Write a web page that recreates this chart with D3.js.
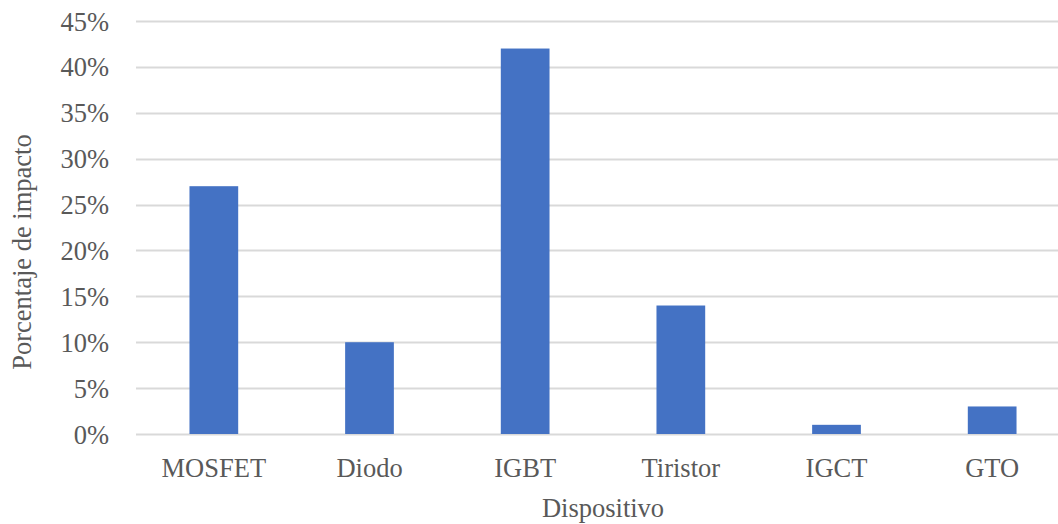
<!DOCTYPE html>
<html>
<head>
<meta charset="utf-8">
<script src="https://cdn.jsdelivr.net/npm/d3@7"></script>
<style>
  html, body { margin: 0; padding: 0; background: #fff; overflow: hidden; }
  svg { display: block; }
  text { font-family: "Liberation Serif", "Times New Roman", serif; fill: #595959; }
</style>
</head>
<body>
<svg id="chart" width="1058" height="524"></svg>
<script>
// Device categories and their share of impact (%)
const categories = ["MOSFET", "Diodo", "IGBT", "Tiristor", "IGCT", "GTO"];
const values = [27, 10, 42, 14, 1, 3];
const yTicks = [0, 5, 10, 15, 20, 25, 30, 35, 40, 45];
const xTitle = "Dispositivo";
const yTitle = "Porcentaje de impacto";

const svg = d3.select("#chart");
const W = 1058, H = 524;
const plot = { left: 136, right: 1070, top: 21, bottom: 434 };

const x = d3.scaleBand()
  .domain(categories)
  .range([plot.left, plot.right])
  .paddingInner(0.687)
  .paddingOuter(0.3435);

const y = d3.scaleLinear()
  .domain([0, 45])
  .range([plot.bottom, plot.top]);

// Horizontal gridlines
svg.append("g")
  .selectAll("line")
  .data(yTicks)
  .join("line")
  .attr("x1", plot.left)
  .attr("x2", W)
  .attr("y1", d => Math.round(y(d)) + 0.5)
  .attr("y2", d => Math.round(y(d)) + 0.5)
  .attr("stroke", "#d9d9d9")
  .attr("stroke-width", 2);

// Bars
svg.append("g")
  .selectAll("rect")
  .data(values)
  .join("rect")
  .attr("x", (d, i) => x(categories[i]))
  .attr("width", x.bandwidth())
  .attr("y", d => y(d))
  .attr("height", d => y(0) - y(d))
  .attr("fill", "#4472c4");

// Y axis tick labels
const yAxis = d3.axisLeft(y)
  .tickValues(yTicks)
  .tickFormat(d => d + "%")
  .tickSize(0)
  .tickPadding(0);
const gy = svg.append("g")
  .attr("transform", `translate(109,0)`)
  .call(yAxis);
gy.select(".domain").remove();
gy.selectAll("text")
  .attr("font-size", "26.5px")
  .attr("font-family", "Liberation Serif, Times New Roman, serif")
  .attr("fill", "#595959")
  .attr("dy", "0.34em");

// X axis category labels
const xAxis = d3.axisBottom(x).tickSize(0).tickPadding(0);
const gx = svg.append("g")
  .attr("transform", `translate(0,${plot.bottom})`)
  .call(xAxis);
gx.select(".domain").remove();
gx.selectAll("text")
  .attr("font-size", "26.5px")
  .attr("font-family", "Liberation Serif, Times New Roman, serif")
  .attr("fill", "#595959")
  .attr("y", 43)
  .attr("dy", 0);

// Axis titles
svg.append("text")
  .attr("x", (plot.left + plot.right) / 2)
  .attr("y", 517)
  .attr("text-anchor", "middle")
  .attr("font-size", "26.5px")
  .text(xTitle);

svg.append("text")
  .attr("transform", `translate(31,252) rotate(-90)`)
  .attr("text-anchor", "middle")
  .attr("font-size", "26.5px")
  .text(yTitle);
</script>
</body>
</html>
